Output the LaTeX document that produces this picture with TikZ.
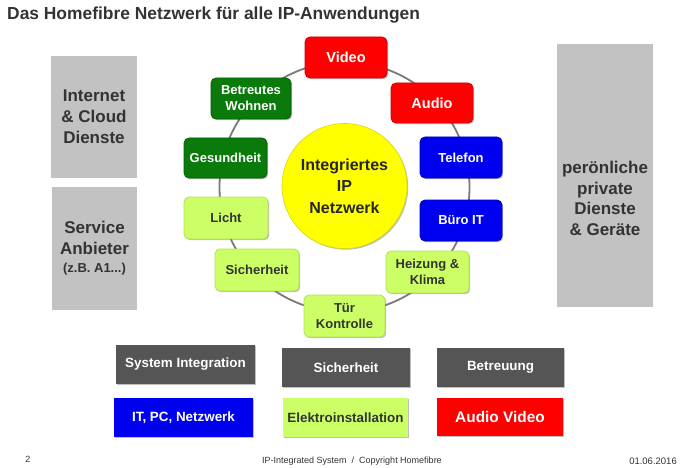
\documentclass[tikz,border=0pt]{standalone}
\usepackage{fontspec}
\setmainfont{Liberation Sans}
\usetikzlibrary{shadows}
\definecolor{txtdark}{HTML}{333333}
\definecolor{boxgray}{HTML}{C2C2C2}
\definecolor{darkbox}{HTML}{555555}
\definecolor{ringgray}{HTML}{7A7A7A}
\definecolor{redfill}{HTML}{FF0000}
\definecolor{redline}{HTML}{D00000}
\definecolor{bluefill}{HTML}{0000F0}
\definecolor{blueline}{HTML}{0000B0}
\definecolor{dgreen}{HTML}{0A7A0A}
\definecolor{dgreenline}{HTML}{056005}
\definecolor{lgreen}{HTML}{CCFF66}
\definecolor{lgreenline}{HTML}{B5E055}
\definecolor{yel}{HTML}{FFFF00}
\tikzset{
  x=1pt, y=-1pt,
  shd/.style={drop shadow={shadow xshift=1.2pt, shadow yshift=-1.2pt, opacity=0.25, fill=black}},
  ringnode/.style={rounded corners=5pt, shd, line width=0.8pt, align=center,
    minimum width=82pt, minimum height=41pt, inner sep=1pt,
    font=\fontsize{13}{16}\selectfont\bfseries},
  rednode/.style={ringnode, fill=redfill, draw=redline, text=white, font=\fontsize{14.5}{17}\selectfont\bfseries},
  bluenode/.style={ringnode, fill=bluefill, draw=blueline, text=white},
  dgnode/.style={ringnode, fill=dgreen, draw=dgreenline, text=white},
  lgnode/.style={ringnode, fill=lgreen, draw=lgreenline, text=txtdark},
  graybox/.style={fill=boxgray, draw=none, align=center, text=txtdark,
    font=\fontsize{17}{21}\selectfont\bfseries, inner sep=0pt},
  botbox/.style={shd, draw=none, align=center, minimum height=39pt, inner sep=0pt,
    font=\fontsize{13.4}{16}\selectfont\bfseries},
  ring/.style={draw=ringgray, line width=1.8pt}
}
\begin{document}
\begin{tikzpicture}
\useasboundingbox[fill=white] (0,0) rectangle (680,468);
% title
\node[anchor=west, text=txtdark, font=\fontsize{17.4}{20}\selectfont\bfseries, inner sep=0pt] (title) at (7,15.5) {Das Homefibre Netzwerk für alle IP-Anwendungen};
% side boxes
\node[graybox, minimum width=86pt, minimum height=122pt] (inet) at (94,117) {Internet\\\& Cloud\\Dienste};
\node[graybox, minimum width=85pt, minimum height=123pt] (serv) at (94.5,248.5) {Service\\Anbieter\\[-3pt]{\fontsize{13}{15}\selectfont (z.B. A1...)}};
\node[fill=boxgray, minimum width=96pt, minimum height=263pt, inner sep=0pt] (priv) at (605,175.5) {};
\node[align=center, text=txtdark, font=\fontsize{17}{20.5}\selectfont\bfseries, inner sep=0pt] (privtxt) at (605,198.5) {perönliche\\private\\Dienste\\\& Geräte};
% ring
\coordinate (ringc) at (344.5,187);
\draw[ring] (ringc) circle[radius=125];
% centre
\node[circle, fill=yel, draw=yel!85!black, line width=0.6pt, minimum size=125pt, inner sep=0pt, align=center, text=black!85,
  font=\fontsize{16}{21.5}\selectfont\bfseries, shd] (ip) at (344.5,186) {Integriertes\\IP\\Netzwerk};
% ring nodes
\node[rednode] (video) at (346,57.5) {Video};
\node[rednode, minimum height=40pt] (audio) at (432,103) {Audio};
\node[bluenode] (telefon) at (461,157.5) {Telefon};
\node[bluenode] (buero) at (461,220.5) {Büro IT};
\node[lgnode, minimum width=83pt, minimum height=42pt] (heiz) at (427.5,272) {Heizung \&\\Klima};
\node[lgnode, minimum width=81pt, minimum height=42pt, font=\fontsize{13}{16.5}\selectfont\bfseries] (tuer) at (344.5,316) {Tür\\Kontrolle};
\node[lgnode, minimum width=84pt, minimum height=42pt] (sich) at (257,270) {Sicherheit};
\node[lgnode, minimum width=84pt, minimum height=42pt] (licht) at (226,218) {Licht};
\node[dgnode, minimum width=83pt, minimum height=40pt] (gesund) at (225.5,158) {Gesundheit};
\node[dgnode, minimum width=80pt] (betr) at (251,98.5) {Betreutes\\Wohnen};
% bottom boxes
\node[botbox, fill=darkbox, text=white, minimum width=139pt] (sysint) at (185.5,364.5) {System Integration};
\node[botbox, fill=darkbox, text=white, minimum width=128pt] (bsich) at (346,367.5) {Sicherheit};
\node[botbox, fill=darkbox, text=white, minimum width=127pt] (betreu) at (500.5,367.5) {Betreuung};
\node[botbox, fill=bluefill, text=white, minimum width=139pt] (itpc) at (183.5,417.5) {IT, PC, Netzwerk};
\node[botbox, fill=lgreen, text=txtdark, minimum width=125pt] (elektro) at (345.5,417.5) {Elektroinstallation};
\node[botbox, fill=redfill, text=white, minimum width=126pt, minimum height=38pt, font=\fontsize{15.4}{18}\selectfont\bfseries] (av) at (500,417) {Audio Video};
% footer
\node[font=\fontsize{9}{11}\selectfont, text=txtdark, inner sep=0pt] (pg) at (28,459) {2};
\node[anchor=west, font=\fontsize{9}{11}\selectfont, text=txtdark, inner sep=0pt] (foot) at (262,461) {IP-Integrated System \ / \ Copyright Homefibre};
\node[anchor=east, font=\fontsize{9.5}{11}\selectfont, text=txtdark, inner sep=0pt] (date) at (677,461) {01.06.2016};
\end{tikzpicture}
\end{document}
